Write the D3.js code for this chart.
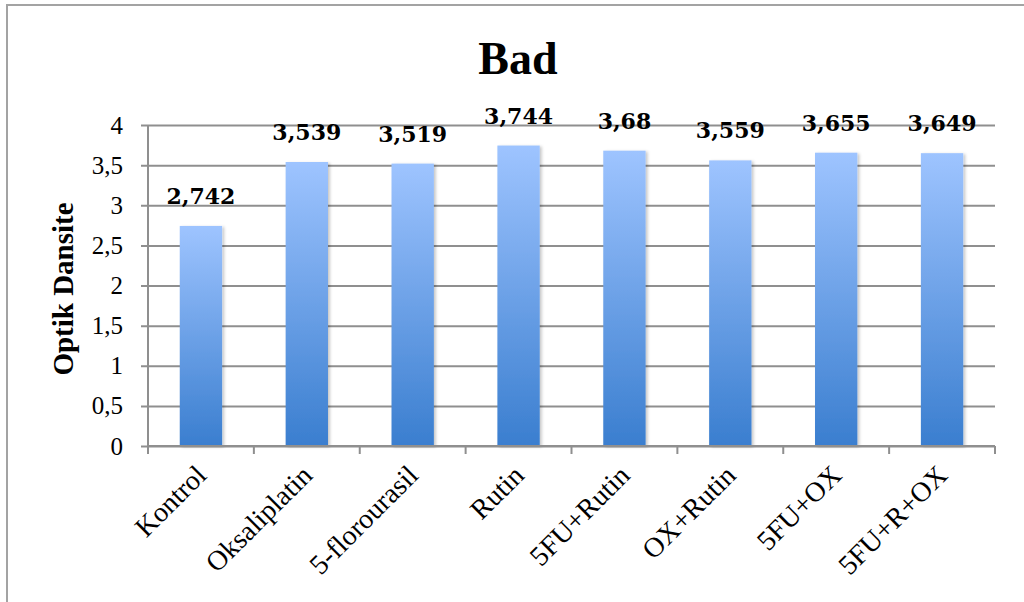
<!DOCTYPE html>
<html>
<head>
<meta charset="utf-8">
<script src="https://cdn.jsdelivr.net/npm/d3@7"></script>
<style>
  html, body { margin: 0; padding: 0; background: #fff; }
  svg { display: block; }
</style>
</head>
<body>
<svg id="chart" width="1024" height="602"></svg>
<script>
// Optical density per treatment group
const categories = ["Kontrol", "Oksaliplatin", "5-florourasil", "Rutin", "5FU+Rutin", "OX+Rutin", "5FU+OX", "5FU+R+OX"];
const values = [2.742, 3.539, 3.519, 3.744, 3.68, 3.559, 3.655, 3.649];
const valueLabels = ["2,742", "3,539", "3,519", "3,744", "3,68", "3,559", "3,655", "3,649"];
const yTicks = [0, 0.5, 1, 1.5, 2, 2.5, 3, 3.5, 4];
const yTickLabels = ["0", "0,5", "1", "1,5", "2", "2,5", "3", "3,5", "4"];

const svg = d3.select("#chart");
const W = 1024, H = 602;
const plot = { left: 148, right: 995, top: 125, bottom: 446 };

// outer frame
svg.append("rect")
  .attr("x", 7).attr("y", 5)
  .attr("width", W + 10).attr("height", H + 10)
  .attr("fill", "#fff").attr("stroke", "#a3a3a3").attr("stroke-width", 2);

const defs = svg.append("defs");
const grad = defs.append("linearGradient")
  .attr("id", "barFill").attr("x1", 0).attr("y1", 0).attr("x2", 0).attr("y2", 1);
grad.append("stop").attr("offset", "0%").attr("stop-color", "#9ec4ff");
grad.append("stop").attr("offset", "100%").attr("stop-color", "#3a7ecf");

const shadow = defs.append("filter").attr("id", "barShadow")
  .attr("x", "-20%").attr("y", "-5%").attr("width", "150%").attr("height", "115%");
shadow.append("feDropShadow")
  .attr("dx", 2).attr("dy", 1).attr("stdDeviation", 1.5)
  .attr("flood-color", "#000").attr("flood-opacity", 0.22);

const x = d3.scaleBand()
  .domain(categories)
  .range([plot.left, plot.right])
  .paddingInner(0.6).paddingOuter(0.3);

const y = d3.scaleLinear().domain([0, 4]).range([plot.bottom, plot.top]);

// horizontal gridlines with outward tick marks
const yAxis = d3.axisLeft(y)
  .tickValues(yTicks)
  .tickSize(-(plot.right - plot.left))
  .tickFormat((d, i) => yTickLabels[i]);

const gy = svg.append("g")
  .attr("transform", `translate(${plot.left},0)`)
  .call(yAxis);
gy.select(".domain").remove();
gy.selectAll(".tick line")
  .attr("x1", -7)
  .attr("stroke", "#8f8f8f").attr("stroke-width", 2);
gy.selectAll(".tick text")
  .attr("x", -25)
  .attr("font-family", "'Liberation Serif', 'Times New Roman', serif")
  .attr("font-size", 25)
  .attr("fill", "#000");

// vertical axis line
svg.append("line")
  .attr("x1", plot.left).attr("x2", plot.left)
  .attr("y1", plot.top).attr("y2", plot.bottom + 7)
  .attr("stroke", "#8f8f8f").attr("stroke-width", 2);

// category axis: tick marks sit between the bands
const boundaries = d3.range(categories.length + 1).map(i => plot.left + i * (plot.right - plot.left) / categories.length);
svg.append("g").selectAll("line")
  .data(boundaries)
  .join("line")
  .attr("x1", d => d).attr("x2", d => d)
  .attr("y1", plot.bottom).attr("y2", plot.bottom + 8)
  .attr("stroke", "#8f8f8f").attr("stroke-width", 2);

// bars
svg.append("g").selectAll("rect")
  .data(values)
  .join("rect")
  .attr("x", (d, i) => x(categories[i]))
  .attr("y", d => y(d))
  .attr("width", x.bandwidth())
  .attr("height", d => y(0) - y(d))
  .attr("fill", "url(#barFill)")
  .attr("filter", "url(#barShadow)");

// bottom axis line over the bars
svg.append("line")
  .attr("x1", plot.left).attr("x2", plot.right)
  .attr("y1", plot.bottom).attr("y2", plot.bottom)
  .attr("stroke", "#8f8f8f").attr("stroke-width", 2);

// value labels
svg.append("g").selectAll("text")
  .data(values)
  .join("text")
  .attr("x", (d, i) => x(categories[i]) + x.bandwidth() / 2)
  .attr("y", d => y(d) - 22)
  .attr("text-anchor", "middle")
  .attr("font-family", "'DejaVu Serif', serif")
  .attr("font-weight", "bold")
  .attr("font-size", 22)
  .attr("fill", "#000")
  .text((d, i) => valueLabels[i]);

// rotated category labels
svg.append("g").selectAll("text")
  .data(categories)
  .join("text")
  .attr("transform", d => `translate(${x(d) + x.bandwidth() / 2 + 7},${plot.bottom + 31}) rotate(-45)`)
  .attr("text-anchor", "end")
  .attr("font-family", "'Liberation Serif', 'Times New Roman', serif")
  .attr("font-size", 28)
  .attr("fill", "#000")
  .text(d => d);

// title
svg.append("text")
  .attr("x", 518).attr("y", 74)
  .attr("text-anchor", "middle")
  .attr("font-family", "'Liberation Serif', 'Times New Roman', serif")
  .attr("font-weight", "bold")
  .attr("font-size", 46)
  .attr("fill", "#000")
  .text("Bad");

// y-axis title
svg.append("text")
  .attr("transform", "translate(73,289) rotate(-90)")
  .attr("text-anchor", "middle")
  .attr("font-family", "'Liberation Serif', 'Times New Roman', serif")
  .attr("font-weight", "bold")
  .attr("font-size", 29)
  .attr("fill", "#000")
  .text("Optik Dansite");
</script>
</body>
</html>
